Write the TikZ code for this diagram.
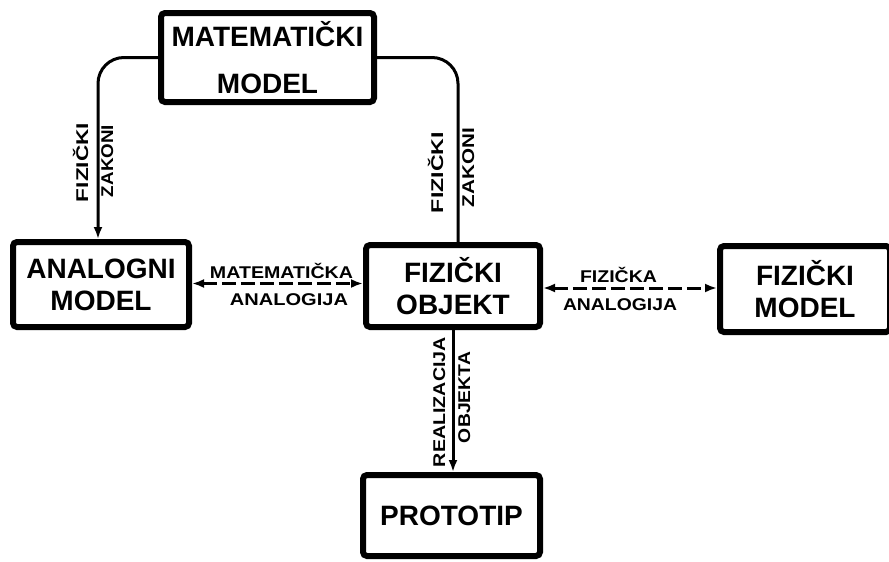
\documentclass[tikz,border=0pt]{standalone}
\usepackage{fontspec}
\setmainfont{Liberation Sans}
\usetikzlibrary{arrows.meta}
\newcommand{\lbl}[2]{\resizebox{#1}{\height}{#2}}
\begin{document}
\begin{tikzpicture}[x=1pt,y=-1pt,
  box/.style={draw, line width=6pt, rounded corners=4pt, inner sep=0pt, align=center,
    font=\bfseries\fontsize{28}{32}\selectfont},
  conn/.style={line width=3pt},
  tipend/.style={-{Latex[length=12pt,width=9pt]}},
  tipboth/.style={{Latex[length=12pt,width=9pt]}-{Latex[length=12pt,width=9pt]}},
  dashy/.style={dash pattern=on 14pt off 5pt},
  lab/.style={inner sep=0pt, anchor=base, font=\bfseries\fontsize{17}{17}\selectfont}]
\useasboundingbox (0,0) rectangle (889,562);

% boxes
\node[box, minimum width=213pt, minimum height=89pt,
      font=\bfseries\fontsize{28}{47}\selectfont] (MM) at (267.5,57.5) {MATEMATIČKI\\MODEL};
\node[box, minimum width=176pt, minimum height=85pt] (AM) at (101,284.5) {ANALOGNI\\MODEL};
\node[box, minimum width=174pt, minimum height=82pt] (FO) at (453,286) {FIZIČKI\\OBJEKT};
\node[box, minimum width=170pt, minimum height=86pt] (FM) at (805,289) {FIZIČKI\\MODEL};
\node[box, minimum width=177pt, minimum height=81pt] (PT) at (451.5,515.5) {PROTOTIP};

% connectors
\coordinate (cL) at (98,0);
\coordinate (cR) at (458,0);
\coordinate (hA) at (0,283.5);
\coordinate (hB) at (0,288);
\draw[conn, tipend, rounded corners=26pt] (MM.west) -| (cL |- AM.north);
\draw[conn, rounded corners=26pt] (MM.east) -| (cR |- FO.north);
\draw[conn, tipboth, dashy] (AM.east |- hA) -- (FO.west |- hA);
\draw[conn, tipboth, dashy] (FO.east |- hB) -- (FM.west |- hB);
\draw[conn, tipend] (FO.south) -- (FO.south |- PT.north);

% labels
\node[lab, rotate=90] (l1) at (88,162.5) {\lbl{79pt}{FIZIČKI}};
\node[lab, rotate=90] (l2) at (113,161) {\lbl{72pt}{ZAKONI}};
\node[lab, rotate=90] (l3) at (443,172.5) {\lbl{81pt}{FIZIČKI}};
\node[lab, rotate=90] (l4) at (474,167.5) {\lbl{79pt}{ZAKONI}};
\node[lab] (l5) at (281.5,278.5) {\lbl{143pt}{MATEMATIČKA}};
\node[lab] (l6) at (289,305) {\lbl{118pt}{ANALOGIJA}};
\node[lab] (l7) at (618.5,282.5) {\lbl{77pt}{FIZIČKA}};
\node[lab] (l8) at (620,310) {\lbl{114pt}{ANALOGIJA}};
\node[lab, rotate=90] (l9) at (445,402) {\lbl{130pt}{REALIZACIJA}};
\node[lab, rotate=90] (l10) at (470,397.5) {\lbl{91pt}{OBJEKTA}};
\end{tikzpicture}
\end{document}
